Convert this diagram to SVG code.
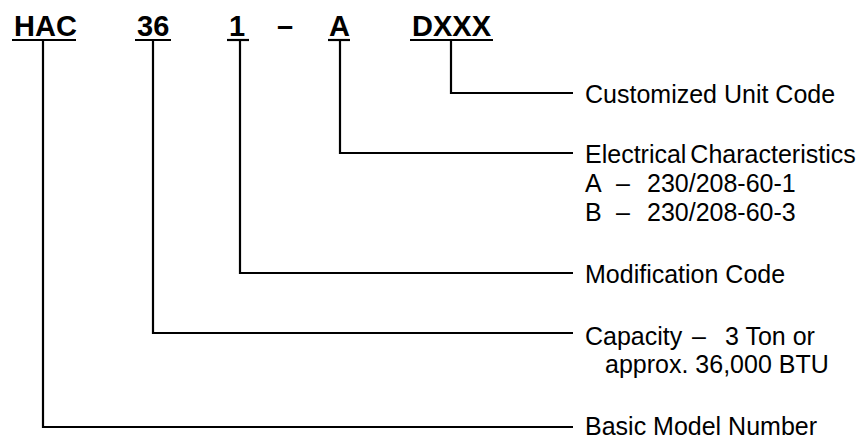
<svg xmlns="http://www.w3.org/2000/svg" width="862" height="436" viewBox="0 0 862 436">
<style>
.code{font-family:"Liberation Sans",Arial,sans-serif;font-size:29px;font-weight:bold;fill:#000}
.lbl{font-family:"Liberation Sans",Arial,sans-serif;font-size:25px;fill:#000}
.ul{stroke:#000;stroke-width:2.2;fill:none}
.ln{stroke:#000;stroke-width:2.2;fill:none}
</style>
<rect width="862" height="436" fill="#fff"/>
<g id="code-HAC"><text class="code" x="14" y="36">HAC</text><line class="ul" x1="12" y1="40" x2="76" y2="40"/></g>
<g id="code-36"><text class="code" x="137" y="36">36</text><line class="ul" x1="135" y1="40" x2="171" y2="40"/></g>
<g id="code-1"><text class="code" x="229" y="36">1</text><line class="ul" x1="227" y1="40" x2="249" y2="40"/></g>
<g id="code-dash"><text class="code" x="277" y="36">–</text></g>
<g id="code-A"><text class="code" x="329" y="36">A</text><line class="ul" x1="328" y1="40" x2="350" y2="40"/></g>
<g id="code-DXXX"><text class="code" x="412" y="36">DXXX</text><line class="ul" x1="410" y1="40" x2="493" y2="40"/></g>
<g id="connectors">
<polyline class="ln" points="451,40 451,93 573,93"/>
<polyline class="ln" points="340,40 340,153 573,153"/>
<polyline class="ln" points="240,40 240,273 573,273"/>
<polyline class="ln" points="153,40 153,333 573,333"/>
<polyline class="ln" points="43,40 43,427 573,427"/>
</g>
<g id="label-custom"><text class="lbl" x="585" y="103">Customized Unit Code</text></g>
<g id="label-elec"><text class="lbl" x="585" y="163" word-spacing="-3">Electrical Characteristics</text>
<text class="lbl" y="192"><tspan x="585">A</tspan><tspan x="616">–</tspan><tspan x="647">230/208-60-1</tspan></text>
<text class="lbl" y="221"><tspan x="585">B</tspan><tspan x="616">–</tspan><tspan x="647">230/208-60-3</tspan></text></g>
<g id="label-mod"><text class="lbl" x="585" y="283">Modification Code</text></g>
<g id="label-cap"><text class="lbl" y="345"><tspan x="585">Capacity</tspan><tspan x="692">–</tspan><tspan x="725">3 Ton or</tspan></text>
<text class="lbl" x="605" y="373">approx. 36,000 BTU</text></g>
<g id="label-basic"><text class="lbl" x="585" y="435">Basic Model Number</text></g>
</svg>
